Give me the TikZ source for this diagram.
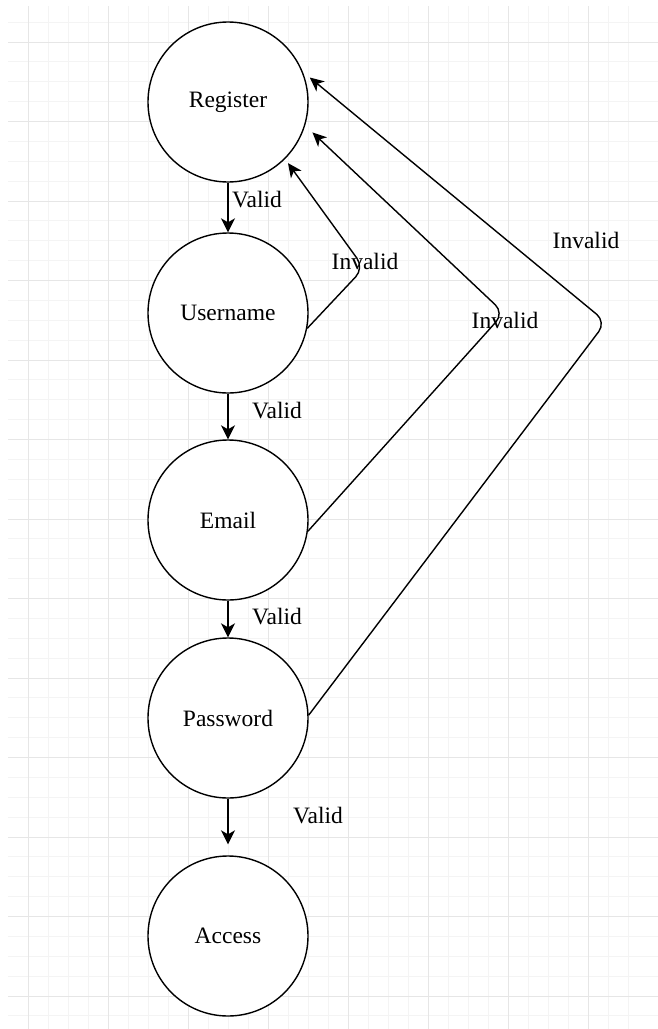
\documentclass[tikz,border=0pt]{standalone}
\usepackage{fontspec}
\setmainfont{Liberation Serif}
\usetikzlibrary{arrows.meta}
\definecolor{gridminor}{HTML}{F4F4F4}
\definecolor{gridmajor}{HTML}{E6E6E6}
\begin{document}
\begin{tikzpicture}[x=1pt,y=-1pt,
  state/.style={circle, draw=black, line width=1.4pt, minimum size=160pt, inner sep=0pt, fill=white, font=\fontsize{23.5}{28}\selectfont},
  lbl/.style={inner sep=0pt, font=\fontsize{23.5}{28}\selectfont},
  arr/.style={draw=black, line width=1.5pt, -{Stealth[length=14pt,width=14pt,inset=4pt]}},
  back/.style={draw=black, line width=1.4pt, rounded corners=12pt, -{Stealth[length=14pt,width=13pt,inset=4pt]}},
  minorline/.style={draw=gridminor, line width=0.9pt},
  majorline/.style={draw=gridmajor, line width=0.9pt},
]
\useasboundingbox (0,0) rectangle (658,1029);
\fill[white] (0,0) rectangle (658,1029);
% grid
\foreach \i in {1,...,31} \draw[minorline] ({8+20*\i},6) -- ({8+20*\i},1029);
\foreach \j in {0,...,50} \draw[minorline] (8,{22.125+19.875*\j}) -- (658,{22.125+19.875*\j});
\foreach \i in {0,...,7} \draw[majorline] ({28+80*\i},6) -- ({28+80*\i},1029);
\foreach \j in {0,...,12} \draw[majorline] (8,{42+79.5*\j}) -- (658,{42+79.5*\j});

% states
\node[state] (reg) at (228,102) {Register};
\node[state] (user) at (228,313) {Username};
\node[state] (email) at (228,520) {Email};
\node[state] (pw) at (228,718) {Password};
\node[state] (acc) at (228,936) {Access};

% valid transitions
\draw[arr] (reg) -- (user);
\draw[arr] (user) -- (email);
\draw[arr] (email) -- (pw);
\draw[arr, shorten >=11pt] (pw) -- (acc);

\node[lbl] (v1) at (257,200) {Valid};
\node[lbl] (v2) at (277,411) {Valid};
\node[lbl] (v3) at (277,617) {Valid};
\node[lbl] (v4) at (318,816) {Valid};

% invalid transitions
\coordinate (c1) at (364,268);
\coordinate (c2) at (504,313);
\coordinate (c3) at (606,322);
\draw[back, shorten >=5pt] (user.-11) -- (c1) -- (reg.-45);
\draw[back, shorten >=10pt] (email.-8) -- (c2) -- (reg.-17);
\draw[back, shorten >=9pt] (pw.2) -- (c3) -- (reg.22);

\node[lbl] (i1) at (365,261) {Invalid};
\node[lbl] (i2) at (505,320) {Invalid};
\node[lbl] (i3) at (586,240) {Invalid};
\end{tikzpicture}
\end{document}
